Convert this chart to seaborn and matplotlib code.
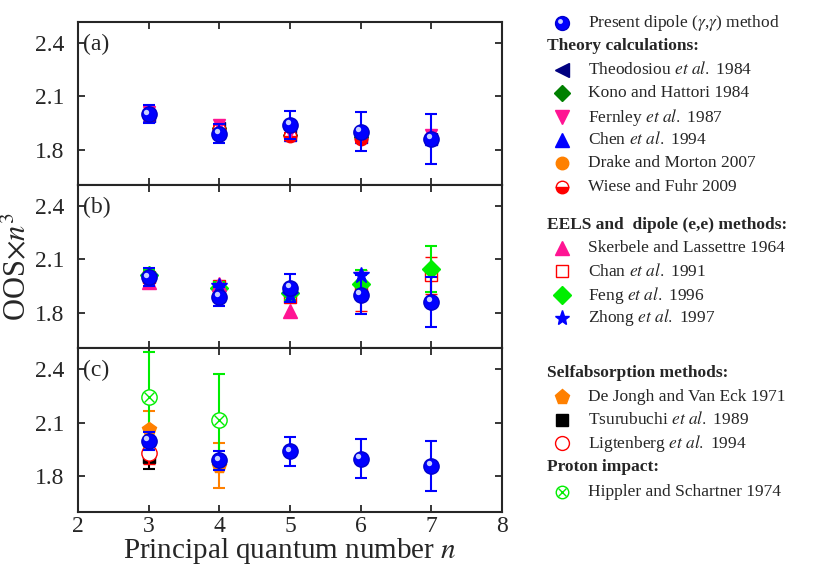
import matplotlib
matplotlib.use("Agg")
import matplotlib.pyplot as plt
import matplotlib.transforms as mtransforms
import seaborn as sns

# principal quantum numbers
n_vals = [3, 4, 5, 6, 7]

# present dipole (gamma,gamma) data, same in every panel
present_oos = [2.00, 1.89, 1.94, 1.90, 1.86]
present_err = [0.05, 0.055, 0.08, 0.11, 0.14]

# (a) theory calculations
theodosiou = [1.99, 1.92, 1.88, 1.87, 1.86]
kono = [1.99, 1.92, 1.885, 1.87, 1.86]
fernley = [2.01, 1.94, 1.90, 1.88, 1.88]
chen = [1.99, 1.92, 1.88, 1.87, 1.86]
drake = [1.99, 1.915, 1.875, 1.86, 1.86]
wiese = [1.99, 1.915, 1.875, 1.86, 1.86]
wiese_err = [0.02, 0.02, 0.02, 0.02, 0.02]

# (b) EELS and dipole (e,e)
skerbele_n = [3, 4, 5]
skerbele = [1.97, 1.96, 1.81]
chan = [2.00, 1.95, 1.89, 1.925, 2.01]
chan_err = [0.02, 0.03, 0.03, 0.115, 0.105]
feng = [2.01, 1.94, 1.91, 1.96, 2.045]
feng_err = [0.03, 0.03, 0.04, 0.08, 0.13]
zhong_n = [3, 4, 5, 6]
zhong = [2.00, 1.95, 1.90, 2.01]

# (c) self-absorption and proton impact
hippler_n = [3, 4]
hippler = [2.245, 2.115]
hippler_err = [0.25, 0.26]
dejongh_n = [3, 4]
dejongh = [2.065, 1.86]
dejongh_err = [0.10, 0.125]
tsuru_n = [3]
tsuru = [1.91]
tsuru_err = [0.07]
ligt_n = [3]
ligt = [1.93]
ligt_err = [0.06]

sns.set_style("ticks")
plt.rcParams["font.family"] = ["Liberation Serif", "DejaVu Serif"]
plt.rcParams["mathtext.fontset"] = "stix"

fig = plt.figure(figsize=(8.13, 5.65), dpi=100)
left, right = 78 / 813, 502 / 813
tops = [22, 185, 348, 512]
axes = []
for i in range(3):
    y0 = 1 - tops[i + 1] / 565
    h = (tops[i + 1] - tops[i]) / 565
    axes.append(fig.add_axes([left, y0, right - left, h]))

ebkw = dict(capsize=4.5, capthick=1.5, elinewidth=1.5, linestyle="none")


def sphere(ax, x, y, err, ms=11, z=10):
    ax.errorbar(x, y, yerr=err, fmt="o", color="#0000ff", ms=ms,
                mec="#0000cc", zorder=z, **ebkw)
    off = mtransforms.ScaledTranslation(-1.8 / 72, 1.8 / 72, fig.dpi_scale_trans)
    ax.plot(x, y, "o", ms=ms * 0.35, color="#c8d0ff", mec="none",
            transform=ax.transData + off, zorder=z + 1)


# panel (a)
ax = axes[0]
ax.plot(n_vals, theodosiou, "<", color="#000080", ms=9, zorder=3)
ax.plot(n_vals, kono, "D", color="#008000", ms=7, zorder=3)
ax.plot(n_vals, chen, "^", color="#0000ff", ms=8, zorder=3)
ax.plot(n_vals, drake, "o", color="#ff8000", ms=8, zorder=3)
ax.errorbar(n_vals, wiese, yerr=wiese_err, fmt="o", color="red", ms=9,
            fillstyle="bottom", mfc="red", mfcalt="white", mec="red",
            zorder=4, **ebkw)
ax.plot(n_vals, fernley, "v", color="#ff1493", ms=9, zorder=5)
sphere(ax, n_vals, present_oos, present_err)

# panel (b)
ax = axes[1]
ax.errorbar(n_vals, chan, yerr=chan_err, fmt="s", color="red", ms=8,
            mfc="none", mew=1, zorder=3, **ebkw)
ax.errorbar(n_vals, feng, yerr=feng_err, fmt="D", color="#00ee00", ms=9,
            zorder=4, **ebkw)
ax.plot(skerbele_n, skerbele, "^", color="#ff1493", ms=10, zorder=5)
ax.plot(zhong_n, zhong, "*", color="#0000ff", ms=12, zorder=6)
sphere(ax, n_vals, present_oos, present_err)

# panel (c)
ax = axes[2]
ax.errorbar(tsuru_n, tsuru, yerr=tsuru_err, fmt="s", color="black", ms=8,
            zorder=3, **ebkw)
ax.errorbar(ligt_n, ligt, yerr=ligt_err, fmt="o", color="red", ms=11,
            mfc="white", mew=1, zorder=4, **ebkw)
ax.errorbar(dejongh_n, dejongh, yerr=dejongh_err, fmt="p", color="#ff8000",
            ms=10, zorder=5, **ebkw)
ax.errorbar(hippler_n, hippler, yerr=hippler_err, fmt="none",
            ecolor="#00ee00", zorder=5, **ebkw)
ax.plot(hippler_n, hippler, "o", ms=11, mfc="white", mec="#00ee00", mew=1, zorder=6)
ax.plot(hippler_n, hippler, "x", ms=7, color="#00ee00", mew=1, zorder=7)
sphere(ax, n_vals, present_oos, present_err)

for i, ax in enumerate(axes):
    ax.set_xlim(2, 8)
    ax.set_ylim(1.6, 2.52)
    ax.set_yticks([1.8, 2.1, 2.4])
    ax.set_yticklabels(["1.8", "2.1", "2.4"])
    ax.set_xticks(range(2, 9))
    ax.tick_params(direction="in", top=True, right=True, length=5, width=1.3,
                   labelsize=17)
    ax.tick_params(axis="y", pad=10)
    ax.tick_params(axis="x", pad=3)
    for s in ax.spines.values():
        s.set_linewidth(1.5)
    if i < 2:
        ax.tick_params(labelbottom=False)
    ax.text(0.012, 0.93, "(%s)" % "abc"[i], transform=ax.transAxes,
            fontsize=17, va="top")

axes[2].set_xlabel(r"Principal quantum number $n$", fontsize=21)
axes[2].xaxis.set_label_coords(0.5, -0.145)
axes[1].set_ylabel(r"OOS$\times n^3$", fontsize=22)
axes[1].yaxis.set_label_coords(-0.108, 0.5)

# legend panel, drawn in figure pixels
lax = fig.add_axes([0, 0, 1, 1])
lax.set_xlim(0, 813)
lax.set_ylim(565, 0)
lax.axis("off")
mx, tx, hx = 562, 588, 553
fs = 12.5

rows = [
    ("sphere", r"Present dipole ($\gamma$,$\gamma$) method", 23),
    ("head", "Theory calculations:", 46),
    (dict(marker="<", color="#000080", ms=10), r"Theodosiou $\it{et\ al.}$ 1984", 70),
    (dict(marker="D", color="#008000", ms=8), "Kono and Hattori 1984", 93),
    (dict(marker="v", color="#ff1493", ms=10), r"Fernley $\it{et\ al.}$ 1987", 117),
    (dict(marker="^", color="#0000ff", ms=10), r"Chen $\it{et\ al.}$ 1994", 140),
    (dict(marker="o", color="#ff8000", ms=9), "Drake and Morton 2007", 163),
    (dict(marker="o", color="red", ms=9, fillstyle="bottom", mfcalt="white"),
     "Wiese and Fuhr 2009", 187),
    ("head", "EELS and  dipole (e,e) methods:", 225),
    (dict(marker="^", color="#ff1493", ms=10), "Skerbele and Lassettre 1964", 248),
    (dict(marker="s", color="red", ms=8, mfc="white", mew=1), r"Chan $\it{et\ al.}$ 1991", 271),
    (dict(marker="D", color="#00ee00", ms=9), r"Feng $\it{et\ al.}$ 1996", 295),
    (dict(marker="*", color="#0000ff", ms=11), r"Zhong $\it{et\ al.}$ 1997", 318),
    ("head", "Selfabsorption methods:", 373),
    (dict(marker="p", color="#ff8000", ms=11), "De Jongh and Van Eck 1971", 397),
    (dict(marker="s", color="black", ms=8), r"Tsurubuchi $\it{et\ al.}$ 1989", 420),
    (dict(marker="o", color="red", ms=10, mfc="white", mew=1), r"Ligtenberg $\it{et\ al.}$ 1994", 443),
    ("head", "Proton impact:", 467),
    ("hippler", "Hippler and Schartner 1974", 492),
]
for kind, label, y in rows:
    if kind == "head":
        lax.text(hx - 6, y, label, fontsize=fs, fontweight="bold", va="center")
        continue
    if kind == "sphere":
        lax.plot(mx, y, "o", color="#0000ff", ms=10, mec="#0000cc")
        lax.plot(mx - 2, y - 2, "o", color="#c8d0ff", ms=3.5, mec="none")
    elif kind == "hippler":
        lax.plot(mx, y, "o", ms=9, mfc="white", mec="#00ee00", mew=1)
        lax.plot(mx, y, "x", ms=6, color="#00ee00", mew=1)
    else:
        kw = dict(kind)
        marker = kw.pop("marker")
        lax.plot(mx, y, marker=marker, linestyle="none", **kw)
    lax.text(tx, y, label, fontsize=fs, va="center")

fig.savefig("out.png", dpi=100)
